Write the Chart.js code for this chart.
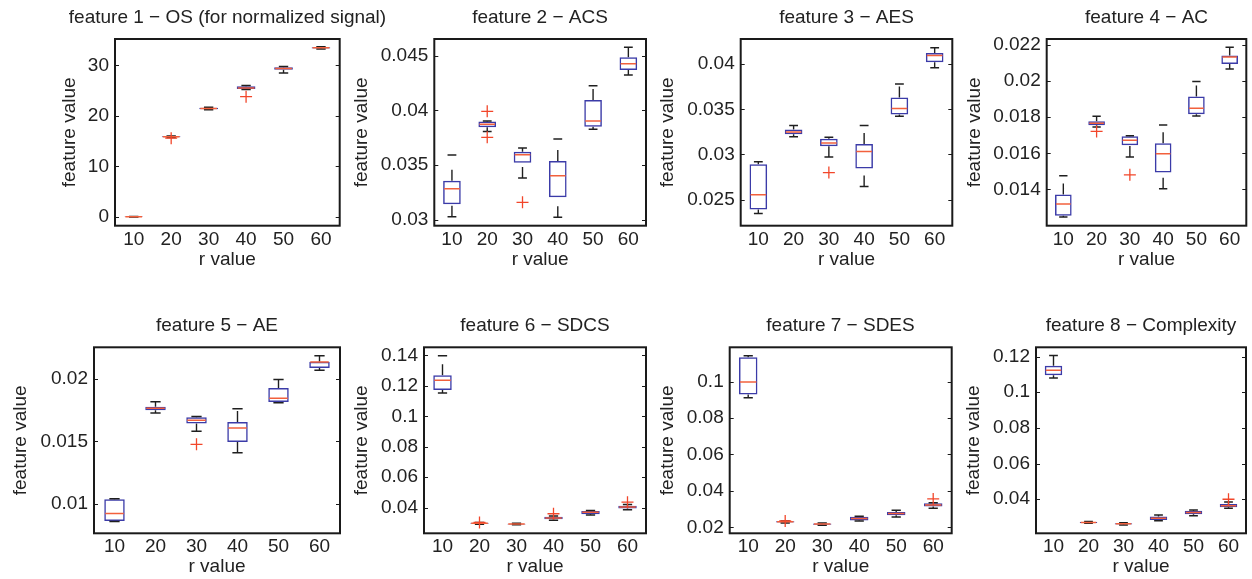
<!DOCTYPE html>
<html>
<head>
<meta charset="utf-8">
<script src="https://cdn.jsdelivr.net/npm/chart.js@4.4.1/dist/chart.umd.min.js"></script>
<style>
  html, body { margin: 0; padding: 0; background: #ffffff; }
  body { width: 1252px; height: 579px; position: relative; overflow: hidden; }
  .panel { position: absolute; }
  .panel canvas { display: block; }
</style>
</head>
<body>
<script>
// r values on the horizontal axis
const rLabels = ['10', '20', '30', '40', '50', '60'];

const featureTitles = [
  'feature 1 \u2212 OS (for normalized signal)',
  'feature 2 \u2212 ACS',
  'feature 3 \u2212 AES',
  'feature 4 \u2212 AC',
  'feature 5 \u2212 AE',
  'feature 6 \u2212 SDCS',
  'feature 7 \u2212 SDES',
  'feature 8 \u2212 Complexity'
];

// Box summaries, one row per r value: [lower whisker, Q1, median, Q3, upper whisker]
const osBox = [
  [0, 0.02, 0.05, 0.08, 0.12],
  [15.7, 15.76, 15.86, 15.96, 16.04],
  [21.2, 21.32, 21.45, 21.6, 21.72],
  [25.2, 25.3, 25.5, 25.85, 26.0],
  [28.5, 29.1, 29.35, 29.6, 29.75],
  [33.2, 33.32, 33.45, 33.56, 33.65]
];
const acsBox = [
  [0.0303, 0.03143, 0.03286, 0.03359, 0.03593],
  [0.03807, 0.03846, 0.03873, 0.03898, 0.03904],
  [0.03383, 0.03523, 0.03596, 0.03624, 0.03657],
  [0.03024, 0.03207, 0.03405, 0.03539, 0.0374],
  [0.03828, 0.03852, 0.03904, 0.04095, 0.04226],
  [0.04324, 0.0437, 0.04427, 0.04485, 0.04576]
];
const aesBox = [
  [0.02345, 0.02389, 0.02552, 0.02892, 0.02918],
  [0.03195, 0.03224, 0.0325, 0.03276, 0.0332],
  [0.02973, 0.03091, 0.03128, 0.03173, 0.03191],
  [0.02644, 0.02844, 0.03032, 0.03117, 0.0332],
  [0.03424, 0.03442, 0.03509, 0.03631, 0.03782],
  [0.0396, 0.04023, 0.04097, 0.04126, 0.04182]
];
const acBox = [
  [0.01247, 0.01254, 0.01319, 0.01372, 0.01476],
  [0.01746, 0.01755, 0.01766, 0.01777, 0.01805],
  [0.01579, 0.01644, 0.01672, 0.01695, 0.01697],
  [0.01404, 0.01494, 0.01598, 0.01655, 0.01757],
  [0.01806, 0.01816, 0.01849, 0.01915, 0.01997],
  [0.02067, 0.02095, 0.02133, 0.02141, 0.02187]
];
const aeBox = [
  [0.00856, 0.00861, 0.0092, 0.01035, 0.0104],
  [0.01727, 0.01749, 0.01765, 0.01778, 0.01818],
  [0.0158, 0.01642, 0.01668, 0.01693, 0.01698],
  [0.01409, 0.01495, 0.01607, 0.01655, 0.01762],
  [0.0181, 0.01816, 0.01845, 0.01928, 0.01995],
  [0.0207, 0.02088, 0.02136, 0.02139, 0.02187]
];
const sdcsBox = [
  [0.1153, 0.1172, 0.1236, 0.1269, 0.1398],
  [0.0291, 0.0294, 0.0297, 0.0300, 0.0302],
  [0.0287, 0.0289, 0.0292, 0.0295, 0.0297],
  [0.0318, 0.0323, 0.0332, 0.0341, 0.0345],
  [0.0352, 0.0356, 0.0369, 0.0378, 0.0382],
  [0.0386, 0.0395, 0.0404, 0.0413, 0.0420]
];
const sdesBox = [
  [0.0912, 0.0930, 0.0998, 0.1134, 0.1143],
  [0.0224, 0.0227, 0.0230, 0.0233, 0.0234],
  [0.0211, 0.0214, 0.0218, 0.0221, 0.0223],
  [0.0235, 0.0238, 0.0248, 0.0258, 0.0261],
  [0.0257, 0.0266, 0.0276, 0.0284, 0.0294],
  [0.0304, 0.0314, 0.0323, 0.0332, 0.0335]
];
const complexityBox = [
  [0.108, 0.1095, 0.1123, 0.1148, 0.1206],
  [0.0265, 0.0267, 0.027, 0.0273, 0.0275],
  [0.0256, 0.0258, 0.0262, 0.0265, 0.0268],
  [0.028, 0.0284, 0.0293, 0.0303, 0.0312],
  [0.0307, 0.0316, 0.0325, 0.0335, 0.034],
  [0.035, 0.0355, 0.0364, 0.0374, 0.0385]
];

// Outlying observations, one list per r value
const osOutliers = [[], [15.58], [], [23.8], [], []];
const acsOutliers = [[], [0.03992, 0.03755], [0.03161], [], [], []];
const aesOutliers = [[], [], [0.02799], [], [], []];
const acOutliers = [[], [0.01721], [0.01481], [], [], []];
const aeOutliers = [[], [], [0.01476], [], [], []];
const sdcsOutliers = [[], [0.0303], [], [0.0360], [], [0.0436]];
const sdesOutliers = [[], [0.0235], [], [], [], [0.0356]];
const complexityOutliers = [[], [], [], [], [], [0.0400]];

// Vertical tick values and axis limits
const osTicks = [0, 10, 20, 30];
const acsTicks = [0.03, 0.035, 0.04, 0.045];
const aesTicks = [0.025, 0.03, 0.035, 0.04];
const acTicks = [0.014, 0.016, 0.018, 0.02, 0.022];
const aeTicks = [0.01, 0.015, 0.02];
const sdcsTicks = [0.04, 0.06, 0.08, 0.1, 0.12, 0.14];
const sdesTicks = [0.02, 0.04, 0.06, 0.08, 0.1];
const complexityTicks = [0.04, 0.06, 0.08, 0.1, 0.12];

const osRange = [-1.72, 35.2];
const acsRange = [0.02948, 0.04652];
const aesRange = [0.0221, 0.0428];
const acRange = [0.01199, 0.02233];
const aeRange = [0.00762, 0.02254];
const sdcsRange = [0.02315, 0.1453];
const sdesRange = [0.0167, 0.1189];
const complexityRange = [0.0209, 0.1252];

const features = [
  { box: osBox, outliers: osOutliers, ticks: osTicks, range: osRange },
  { box: acsBox, outliers: acsOutliers, ticks: acsTicks, range: acsRange },
  { box: aesBox, outliers: aesOutliers, ticks: aesTicks, range: aesRange },
  { box: acBox, outliers: acOutliers, ticks: acTicks, range: acRange },
  { box: aeBox, outliers: aeOutliers, ticks: aeTicks, range: aeRange },
  { box: sdcsBox, outliers: sdcsOutliers, ticks: sdcsTicks, range: sdcsRange },
  { box: sdesBox, outliers: sdesOutliers, ticks: sdesTicks, range: sdesRange },
  { box: complexityBox, outliers: complexityOutliers, ticks: complexityTicks, range: complexityRange }
].map((f, i) => Object.assign({ title: featureTitles[i] }, f));

// ---- page layout: plot-area edges (px) for each panel column and row ----
const panelColumns = [
  { caLeft: 115, caRight: 339.7, yTitleX: 69.35 },
  { caLeft: 434.3, caRight: 646, yTitleX: 362.05 },
  { caLeft: 740.7, caRight: 952.3, yTitleX: 667.85 },
  { caLeft: 1046.7, caRight: 1246.3, yTitleX: 974.35 },
  { caLeft: 94, caRight: 340, yTitleX: 20.65 },
  { caLeft: 424, caRight: 646, yTitleX: 362.05 },
  { caLeft: 729.7, caRight: 951.7, yTitleX: 667.85 },
  { caLeft: 1036, caRight: 1246, yTitleX: 974.05 }
];
const panelRows = [
  { top: 0, height: 272, caTop: 39, caBottom: 225.7, titleMid: 17.4, xTitleMid: 260 },
  { top: 300, height: 279, caTop: 347.3, caBottom: 533.3, titleMid: 325.7, xTitleMid: 566.7 }
];

const FONT_FAMILY = "'Liberation Sans', Arial, Helvetica, sans-serif";
const FONT_SIZE = 19;
const LINE_H = FONT_SIZE * 1.2;
const TEXT_COLOR = '#222222';
const BOX_COLOR = '#3b3ba8';
const MEDIAN_COLOR = '#f2603c';
const OUTLIER_COLOR = '#f2462a';
const WHISKER_COLOR = '#1f1f1f';
const FRAME_COLOR = '#1a1a1a';

const font = { family: FONT_FAMILY, size: FONT_SIZE, weight: 'normal' };

// fraction of a category band, in pixels
function bandPx(ctx, frac) {
  const a = ctx.chart.chartArea;
  return a ? (a.right - a.left) / rLabels.length * frac : 4;
}

// axes frame with inward tick marks on both vertical sides
const framePlugin = {
  id: 'axesFrame',
  afterDraw(chart) {
    const { ctx, chartArea: a } = chart;
    const y = chart.scales.y;
    ctx.save();
    ctx.strokeStyle = FRAME_COLOR;
    ctx.lineWidth = 1;
    y.ticks.forEach(t => {
      const py = Math.round(y.getPixelForValue(t.value)) + 0.5;
      ctx.beginPath();
      ctx.moveTo(a.left, py); ctx.lineTo(a.left + 4, py);
      ctx.moveTo(a.right, py); ctx.lineTo(a.right - 4, py);
      ctx.stroke();
    });
    ctx.lineWidth = 2;
    ctx.strokeRect(a.left, a.top, a.right - a.left, a.bottom - a.top);
    ctx.restore();
  }
};

features.forEach((feat, i) => {
  const col = panelColumns[i];
  const row = panelRows[Math.floor(i / 4)];

  // the canvas is symmetric about the plot centre so the full-width title sits over the axes
  const left = Math.floor(col.yTitleX - LINE_H / 2 - 1);
  const centre = (col.caLeft + col.caRight) / 2;
  const width = Math.round(2 * (centre - left));
  const rightSpacer = left + width - col.caRight;
  const yAxisWidth = col.caLeft - left;
  const yTitlePad = col.yTitleX - left - LINE_H / 2;
  const titlePadTop = row.titleMid - row.top - LINE_H / 2;
  const titlePadBottom = row.caTop - row.top - titlePadTop - LINE_H;
  const xAxisHeight = row.top + row.height - row.caBottom;
  const xTitlePad = row.top + row.height - row.xTitleMid - LINE_H / 2;

  const holder = document.createElement('div');
  holder.className = 'panel';
  holder.style.left = left + 'px';
  holder.style.top = row.top + 'px';
  const canvas = document.createElement('canvas');
  canvas.width = width;
  canvas.height = row.height;
  canvas.style.width = width + 'px';
  canvas.style.height = row.height + 'px';
  holder.appendChild(canvas);
  document.body.appendChild(holder);

  // whiskers: each segment runs upward so the dash starts at its lower end
  const whiskerPts = [];
  feat.box.forEach((b, k) => {
    const x = rLabels[k];
    whiskerPts.push({ x, y: b[0] }, { x, y: b[1] }, { x, y: null },
                    { x, y: b[3] }, { x, y: b[4] }, { x, y: null });
  });
  const capPts = feat.box.flatMap((b, k) => [{ x: rLabels[k], y: b[0] }, { x: rLabels[k], y: b[4] }]);
  const outlierPts = feat.outliers.flatMap((list, k) => list.map(v => ({ x: rLabels[k], y: v })));

  new Chart(canvas, {
    type: 'bar',
    data: {
      labels: rLabels,
      datasets: [
        {
          type: 'line',
          label: 'whiskers',
          data: whiskerPts,
          borderColor: WHISKER_COLOR,
          borderWidth: 1.4,
          borderDash: [11, 16],
          pointRadius: 0,
          spanGaps: false,
          tension: 0,
          order: 5
        },
        {
          type: 'bar',
          label: 'box',
          data: feat.box.map(b => [b[1], b[3]]),
          backgroundColor: 'rgba(255,255,255,0)',
          borderColor: BOX_COLOR,
          borderWidth: 1.5,
          borderSkipped: false,
          barPercentage: 0.5,
          categoryPercentage: 1,
          order: 4
        },
        {
          type: 'line',
          label: 'caps',
          data: capPts,
          showLine: false,
          pointStyle: 'line',
          pointRadius: ctx => bandPx(ctx, 0.125),
          pointBorderColor: WHISKER_COLOR,
          pointBorderWidth: 1.5,
          order: 3
        },
        {
          type: 'line',
          label: 'median',
          data: feat.box.map(b => b[2]),
          showLine: false,
          pointStyle: 'line',
          pointRadius: ctx => bandPx(ctx, 0.25) - 1,
          pointBorderColor: MEDIAN_COLOR,
          pointBorderWidth: 1.5,
          order: 2
        },
        {
          type: 'line',
          label: 'outliers',
          data: outlierPts,
          showLine: false,
          pointStyle: 'cross',
          pointRadius: 6,
          pointBorderColor: OUTLIER_COLOR,
          pointBorderWidth: 1.3,
          order: 1
        }
      ]
    },
    options: {
      responsive: false,
      animation: false,
      events: [],
      layout: { padding: 0 },
      plugins: {
        legend: { display: false },
        tooltip: { enabled: false },
        title: {
          display: true,
          text: feat.title,
          fullSize: true,
          color: TEXT_COLOR,
          font: font,
          padding: { top: titlePadTop, bottom: titlePadBottom }
        }
      },
      scales: {
        x: {
          type: 'category',
          offset: true,
          grid: { display: false, drawTicks: false },
          border: { display: false },
          ticks: { color: TEXT_COLOR, font: font, padding: 2.5, autoSkip: false, maxRotation: 0 },
          title: { display: true, text: 'r value', color: TEXT_COLOR, font: font, padding: { top: 0, bottom: xTitlePad } },
          afterFit: s => { s.height = xAxisHeight; }
        },
        y: {
          type: 'linear',
          position: 'left',
          min: feat.range[0],
          max: feat.range[1],
          grid: { display: false, drawTicks: false },
          border: { display: false },
          afterBuildTicks: s => { s.ticks = feat.ticks.map(v => ({ value: v })); },
          ticks: { color: TEXT_COLOR, font: font, padding: 6, callback: v => String(v) },
          title: { display: true, text: 'feature value', color: TEXT_COLOR, font: font, padding: { top: yTitlePad, bottom: 0 } },
          afterFit: s => { s.width = yAxisWidth; }
        },
        // empty right-hand margin that balances the left axis
        yRight: {
          type: 'linear',
          position: 'right',
          display: true,
          grid: { display: false, drawTicks: false },
          border: { display: false },
          ticks: { display: false },
          title: { display: false },
          afterFit: s => { s.width = rightSpacer; }
        }
      }
    },
    plugins: [framePlugin]
  });
});
</script>
</body>
</html>
